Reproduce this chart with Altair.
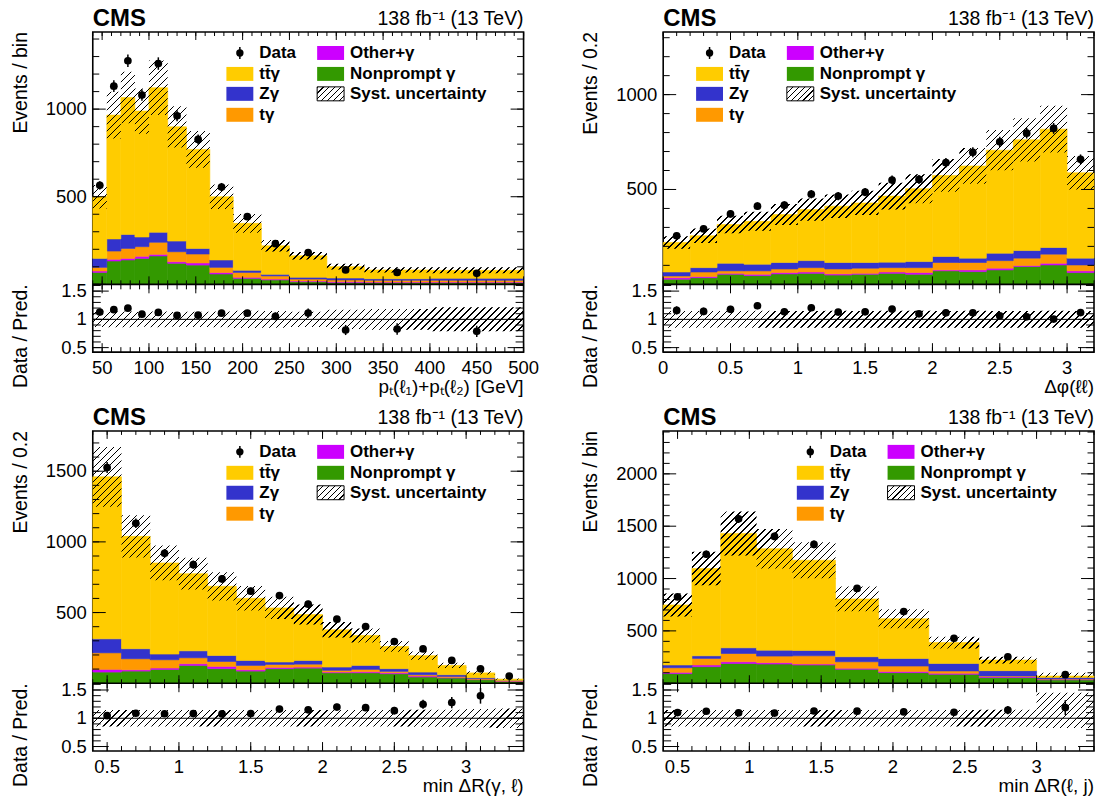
import numpy as np
import pandas as pd
import altair as alt

FONT = "Liberation Sans"
W, HM, HR = 432, 253, 68
HT = HM + HR
RDOM = [0.42, 1.62]

PROCS = ["Nonprompt  γ", "Other+γ", "tγ", "Zγ", "tt\u0304γ"]          # stacked bottom -> top
COLORS = ["#339900", "#cc00ff", "#ff9900", "#3333cc", "#ffcc00"]

# ---------------- panel 1 : pT(l1)+pT(l2) ----------------
pt_edges = [40, 55, 70, 85, 100, 120, 140, 165, 190, 220, 250, 290, 330, 400, 500]
pt_nonprompt = [68, 133, 139, 148, 162, 120, 110, 59, 34, 25, 15, 10, 10, 10]
pt_other = [8, 10, 9, 12, 9, 9, 12, 8, 6, 5, 4, 5, 3, 3]
pt_tg = [21, 47, 57, 55, 69, 57, 51, 30, 28, 18, 11, 10, 10, 10]
pt_zg = [51, 69, 80, 55, 57, 61, 32, 42, 12, 9, 10, 11, 9, 11]
pt_ttg = [352, 707, 781, 719, 825, 652, 565, 361, 268, 163, 123, 65, 50, 46]
pt_data = [565, 1131, 1276, 1080, 1260, 962, 827, 555, 386, 232, 181, 82, 68, 63]
pt_unc_up = [67, 133, 147, 129, 156, 118, 105, 70, 53, 33, 22, 17, 15, 17]
pt_unc_dn = [67, 133, 147, 129, 156, 118, 105, 70, 53, 33, 22, 17, 15, 17]
pt_xlabels = [50, 100, 150, 200, 250, 300, 350, 400, 450, 500]
pt_ylabels = [500, 1000]

# ---------------- panel 2 : delta phi(ll) ----------------
dphi_edges = [0, 0.2, 0.4, 0.6, 0.8, 1.0, 1.2, 1.4, 1.6, 1.8, 2.0, 2.2, 2.4, 2.6, 2.8, 3.0, 3.2]
dphi_nonprompt = [27, 35, 53, 46, 55, 58, 49, 53, 58, 53, 71, 67, 76, 94, 102, 62]
dphi_other = [8, 6, 5, 7, 7, 7, 6, 5, 7, 9, 5, 9, 9, 5, 9, 9]
dphi_tg = [9, 24, 13, 18, 19, 23, 26, 27, 23, 26, 39, 39, 40, 39, 48, 31]
dphi_zg = [21, 23, 40, 35, 34, 37, 34, 30, 29, 32, 32, 23, 39, 40, 35, 36]
dphi_ttg = [156, 168, 204, 226, 253, 269, 297, 314, 348, 384, 427, 486, 543, 584, 624, 450]
dphi_data = [256, 292, 371, 412, 417, 475, 465, 486, 550, 553, 641, 696, 751, 797, 822, 659]
dphi_unc_up = [33, 38, 46, 50, 55, 59, 62, 64, 70, 76, 86, 94, 106, 114, 123, 88]
dphi_unc_dn = [33, 38, 46, 50, 55, 59, 62, 64, 70, 76, 86, 94, 106, 114, 123, 88]
dphi_xlabels = [0, 0.5, 1, 1.5, 2, 2.5, 3]
dphi_ylabels = [500, 1000]

# ---------------- panel 3 : min dR(gamma, l) ----------------
drgl_edges = [0.4, 0.6, 0.8, 1.0, 1.2, 1.4, 1.6, 1.8, 2.0, 2.2, 2.4, 2.6, 2.8, 3.0, 3.2, 3.4]
drgl_nonprompt = [79, 86, 98, 126, 103, 86, 103, 107, 74, 74, 67, 44, 37, 25, 13]
drgl_other = [19, 9, 9, 12, 16, 9, 9, 7, 5, 7, 7, 7, 4, 2, 2]
drgl_tg = [117, 78, 59, 42, 35, 31, 21, 21, 12, 17, 10, 9, 7, 5, 3]
drgl_zg = [99, 71, 40, 49, 42, 35, 17, 26, 23, 28, 19, 19, 12, 7, 2]
drgl_ttg = [1146, 795, 645, 546, 490, 440, 383, 325, 264, 212, 157, 116, 66, 34, 9]
drgl_data = [1526, 1131, 919, 839, 738, 651, 620, 559, 453, 401, 295, 243, 161, 102, 51]
drgl_unc_up = [212, 150, 123, 112, 100, 87, 78, 71, 55, 49, 38, 29, 19, 12, 5]
drgl_unc_dn = [212, 150, 123, 112, 100, 87, 78, 71, 55, 49, 38, 29, 19, 12, 5]
drgl_xlabels = [0.5, 1, 1.5, 2, 2.5, 3]
drgl_ylabels = [500, 1000, 1500]

# ---------------- panel 4 : min dR(l, j) ----------------
drlj_edges = [0.4, 0.6, 0.8, 1.05, 1.3, 1.6, 1.9, 2.25, 2.6, 3.0, 3.4]
drlj_nonprompt = [92, 158, 189, 183, 174, 133, 101, 85, 54, 32]
drlj_other = [12, 16, 16, 13, 9, 9, 10, 10, 9, 6]
drlj_tg = [44, 63, 79, 63, 79, 63, 53, 22, 6, 3]
drlj_zg = [26, 25, 54, 57, 51, 48, 73, 72, 51, 13]
drlj_ttg = [574, 834, 1093, 969, 862, 552, 379, 199, 101, 15]
drlj_data = [824, 1232, 1570, 1402, 1326, 906, 685, 429, 253, 82]
drlj_unc_up = [110, 160, 210, 188, 172, 118, 90, 57, 33, 31]
drlj_unc_dn = [110, 160, 210, 188, 172, 118, 90, 57, 33, 12]
drlj_xlabels = [0.5, 1, 1.5, 2, 2.5, 3]
drlj_ylabels = [500, 1000, 1500, 2000]

RATIO_LABELS = [0.5, 1, 1.5]
LEG_LABELS = ["Data", "tt\u0304γ", "Zγ", "tγ", "Other+γ", "Nonprompt  γ", "Syst. uncertainty"]


def hatch(wpx, hpx, spacing=7.0, lw=1.2):
    r = hpx / wpx
    k = (1 + r) / (1 + r * r)
    tot = wpx + hpx
    n = max(1, int(round(tot / spacing)))
    w = lw / tot
    stops = []
    for i in range(n):
        a = round(i / n, 6)
        b = round(min(i / n + w, 1.0), 6)
        c = round((i + 1) / n, 6)
        stops += [{"offset": a, "color": "#000000"}, {"offset": b, "color": "#000000"},
                  {"offset": b, "color": "rgba(0,0,0,0)"}, {"offset": c, "color": "rgba(0,0,0,0)"}]
    return {"gradient": "linear", "x1": 0, "y1": 0, "x2": float(k), "y2": float(k * r), "stops": stops}


def tick_values(dom, step):
    s = np.ceil(dom[0] / step - 1e-9) * step
    v = np.arange(s, dom[1] + step * 1e-6, step)
    v = v[(v >= dom[0] - 1e-9) & (v <= dom[1] + 1e-9)]
    return [float(x) for x in np.round(v, 6)]


def rule(df):
    return alt.Chart(df).mark_rule(color="black", strokeWidth=1)


def x_tick_layers(xs, xdom, xsteps, y_top, y_bot, lens):
    out = []
    for step, L in zip(xsteps, lens):
        df = pd.DataFrame({"t": tick_values(xdom, step)})
        X = alt.X("t:Q", scale=xs, axis=None)
        out.append(rule(df).encode(x=X, y=alt.value(y_bot), y2=alt.value(y_bot - L)))
        out.append(rule(df).encode(x=X, y=alt.value(y_top), y2=alt.value(y_top + L)))
    return out


def y_tick_layers(ys, ydom, ysteps, lens):
    out = []
    for step, L in zip(ysteps, lens):
        df = pd.DataFrame({"t": tick_values(ydom, step)})
        Y = alt.Y("t:Q", scale=ys, axis=None)
        out.append(rule(df).encode(y=Y, x=alt.value(0), x2=alt.value(L)))
        out.append(rule(df).encode(y=Y, x=alt.value(W), x2=alt.value(W - L)))
    return out


def txt(df, **kw):
    return alt.Chart(df).mark_text(font=FONT, color="black", **kw)


def legend_layers(x0):
    sw, sh = 27, 14
    rows = [21, 42, 62, 83]
    c2 = x0 + 91
    items = [(PROCS[4], x0, rows[1]), (PROCS[3], x0, rows[2]), (PROCS[2], x0, rows[3]),
             (PROCS[1], c2, rows[0]), (PROCS[0], c2, rows[1])]
    cmap = dict(zip(PROCS, COLORS))
    rdf = pd.DataFrame({"x0": [i[1] for i in items], "x1": [i[1] + sw for i in items],
                        "y0": [i[2] - sh / 2 for i in items], "y1": [i[2] + sh / 2 for i in items],
                        "c": [cmap[i[0]] for i in items]})
    rects = alt.Chart(rdf).mark_rect().encode(
        x=alt.X("x0:Q", scale=None), x2="x1:Q", y=alt.Y("y0:Q", scale=None), y2="y1:Q",
        color=alt.Color("c:N", scale=None))
    sdf = pd.DataFrame({"x0": [c2], "x1": [c2 + sw], "y0": [rows[2] - sh / 2], "y1": [rows[2] + sh / 2]})
    syst = alt.Chart(sdf).mark_rect(fill=hatch(sw, sh, spacing=6.0, lw=1.2), stroke="black", strokeWidth=1).encode(
        x=alt.X("x0:Q", scale=None), x2="x1:Q", y=alt.Y("y0:Q", scale=None), y2="y1:Q")
    tpos = [(x0, rows[0]), (x0, rows[1]), (x0, rows[2]), (x0, rows[3]), (c2, rows[0]), (c2, rows[1]), (c2, rows[2])]
    tdf = pd.DataFrame({"x": [p[0] + 33 for p in tpos], "y": [p[1] for p in tpos], "t": LEG_LABELS})
    texts = txt(tdf, fontSize=17, fontWeight="bold", align="left", baseline="middle").encode(
        x=alt.X("x:Q", scale=None), y=alt.Y("y:Q", scale=None), text="t:N")
    ddf = pd.DataFrame({"x": [x0 + 13.5], "y": [rows[0]], "ya": [rows[0] - 6], "yb": [rows[0] + 6]})
    dbar = alt.Chart(ddf).mark_rule(color="black", strokeWidth=1.5).encode(
        x=alt.X("x:Q", scale=None), y=alt.Y("ya:Q", scale=None), y2="yb:Q")
    dpt = alt.Chart(ddf).mark_circle(color="black", opacity=1, size=55).encode(
        x=alt.X("x:Q", scale=None), y=alt.Y("y:Q", scale=None))
    return [rects, syst, texts, dbar, dpt]


def labels_df(vals):
    return pd.DataFrame({"v": [float(v) for v in vals], "s": [f"{v:g}" for v in vals]})


def panel(edges, comps, data, up, dn, ymax, xsteps, xlabels, ylabels, ytitle, xtitle, leg_x):
    n = len(data)
    xdom = [edges[0], edges[-1]]
    xs = alt.Scale(domain=xdom, nice=False, zero=False)
    ys = alt.Scale(domain=[0, ymax], range=[HM, 0], nice=False, zero=False)
    rs = alt.Scale(domain=RDOM, range=[HT, HM], nice=False, zero=False)
    cs = alt.Scale(domain=PROCS, range=COLORS)

    rows = []
    total = [0.0] * n
    for name, arr in zip(PROCS, comps):
        for i in range(n):
            rows.append({"x0": edges[i], "x1": edges[i + 1], "lo": total[i], "hi": total[i] + arr[i], "proc": name})
            total[i] += arr[i]
    sdf = pd.DataFrame(rows)

    centers = [(edges[i] + edges[i + 1]) / 2 for i in range(n)]
    ddf = pd.DataFrame({"x": centers, "y": data,
                        "ya": [d - np.sqrt(d) for d in data], "yb": [d + np.sqrt(d) for d in data],
                        "r": [d / t for d, t in zip(data, total)],
                        "ra": [(d - np.sqrt(d)) / t for d, t in zip(data, total)],
                        "rb": [(d + np.sqrt(d)) / t for d, t in zip(data, total)]})
    rdd = ddf[(ddf["r"] > RDOM[0]) & (ddf["r"] < RDOM[1])].copy()
    rdd["ra"] = rdd["ra"].clip(RDOM[0], RDOM[1])
    rdd["rb"] = rdd["rb"].clip(RDOM[0], RDOM[1])

    blo = [t - d for t, d in zip(total, dn)]
    bhi = [t + u for t, u in zip(total, up)]
    bdf = pd.DataFrame({"x": list(edges), "lo": blo + [blo[-1]], "hi": bhi + [bhi[-1]]})
    rlo = [max(1 - d / t, RDOM[0]) for t, d in zip(total, dn)]
    rhi = [min(1 + u / t, RDOM[1]) for t, u in zip(total, up)]
    rdf = pd.DataFrame({"x": list(edges), "lo": rlo + [rlo[-1]], "hi": rhi + [rhi[-1]]})

    hm_band = (max(bhi) - min(blo)) / ymax * HM
    hr_band = (max(rhi) - min(rlo)) / (RDOM[1] - RDOM[0]) * HR

    bars = alt.Chart(sdf).mark_rect(strokeWidth=0.6).encode(
        x=alt.X("x0:Q", scale=xs, axis=None), x2="x1:Q",
        y=alt.Y("lo:Q", scale=ys, axis=None), y2="hi:Q",
        color=alt.Color("proc:N", scale=cs, legend=None),
        stroke=alt.Stroke("proc:N", scale=cs, legend=None))
    band = alt.Chart(bdf).mark_area(interpolate="step-after", fill=hatch(W, hm_band), opacity=1).encode(
        x=alt.X("x:Q", scale=xs, axis=None), y=alt.Y("lo:Q", scale=ys, axis=None), y2="hi:Q")
    err = alt.Chart(ddf).mark_rule(color="black", strokeWidth=1.5).encode(
        x=alt.X("x:Q", scale=xs, axis=None), y=alt.Y("ya:Q", scale=ys, axis=None), y2="yb:Q")
    pts = alt.Chart(ddf).mark_circle(color="black", opacity=1, size=60).encode(
        x=alt.X("x:Q", scale=xs, axis=None), y=alt.Y("y:Q", scale=ys, axis=None))

    rband = alt.Chart(rdf).mark_area(interpolate="step-after", fill=hatch(W, hr_band), opacity=1).encode(
        x=alt.X("x:Q", scale=xs, axis=None), y=alt.Y("lo:Q", scale=rs, axis=None), y2="hi:Q")
    one = alt.Chart(pd.DataFrame({"one": [1.0]})).mark_rule(color="black", strokeWidth=1).encode(
        y=alt.Y("one:Q", scale=rs, axis=None))
    rerr = alt.Chart(rdd).mark_rule(color="black", strokeWidth=1.5).encode(
        x=alt.X("x:Q", scale=xs, axis=None), y=alt.Y("ra:Q", scale=rs, axis=None), y2="rb:Q")
    rpts = alt.Chart(rdd).mark_circle(color="black", opacity=1, size=60).encode(
        x=alt.X("x:Q", scale=xs, axis=None), y=alt.Y("r:Q", scale=rs, axis=None))

    sep = alt.Chart(pd.DataFrame({"v": [0]})).mark_rule(color="black", strokeWidth=1.6).encode(
        x=alt.value(0), x2=alt.value(W), y=alt.value(HM))

    # axis labels and titles as text
    ylab = txt(labels_df(ylabels), fontSize=18.5, align="right", baseline="middle").encode(
        y=alt.Y("v:Q", scale=ys, axis=None), x=alt.value(-6), text="s:N")
    rlab = txt(labels_df(RATIO_LABELS), fontSize=18.5, align="right", baseline="middle").encode(
        y=alt.Y("v:Q", scale=rs, axis=None), x=alt.value(-6), text="s:N")
    xlab = txt(labels_df(xlabels), fontSize=18.5, align="center", baseline="middle").encode(
        x=alt.X("v:Q", scale=xs, axis=None), y=alt.value(HT + 16), text="s:N")
    ytit = txt(pd.DataFrame({"t": [ytitle]}), fontSize=19.5, align="right", baseline="middle", angle=270).encode(
        x=alt.value(-72), y=alt.value(0), text="t:N")
    rtit = txt(pd.DataFrame({"t": ["Data / Pred."]}), fontSize=19.5, align="right", baseline="middle",
               angle=270).encode(x=alt.value(-72), y=alt.value(HM), text="t:N")
    xtit = txt(pd.DataFrame({"t": [xtitle]}), fontSize=19, align="right", baseline="middle").encode(
        x=alt.value(W), y=alt.value(HT + 35), text="t:N")

    cms = txt(pd.DataFrame({"t": ["CMS"]}), fontSize=24, fontWeight="bold", align="left",
              baseline="alphabetic").encode(text="t:N", x=alt.value(0), y=alt.value(-6))
    lumi = txt(pd.DataFrame({"t": ["138 fb\u207b\u00b9 (13 TeV)"]}), fontSize=19.5, align="right",
               baseline="alphabetic").encode(text="t:N", x=alt.value(W), y=alt.value(-7))

    ticks = (x_tick_layers(xs, xdom, xsteps, 0, HM, (4, 8))
             + x_tick_layers(xs, xdom, xsteps, HM, HT, (5, 9))
             + y_tick_layers(ys, [0, ymax], (100, 500), (6.5, 13))
             + y_tick_layers(rs, RDOM, (0.1, 0.5), (8, 16)))

    layers = [bars, band, err, pts, rband, one, rerr, rpts, sep, *ticks,
              ylab, rlab, xlab, ytit, rtit, xtit, cms, lumi, *legend_layers(leg_x)]
    return alt.layer(*layers).resolve_scale(y="independent").properties(width=W, height=HT)


p1 = panel(pt_edges, [pt_nonprompt, pt_other, pt_tg, pt_zg, pt_ttg], pt_data, pt_unc_up, pt_unc_dn,
           1440, (10, 50), pt_xlabels, pt_ylabels, "Events / bin",
           "p\u209c(ℓ\u2081)+p\u209c(ℓ\u2082) [GeV]", 134)
p2 = panel(dphi_edges, [dphi_nonprompt, dphi_other, dphi_tg, dphi_zg, dphi_ttg], dphi_data, dphi_unc_up,
           dphi_unc_dn, 1330, (0.1, 0.5), dphi_xlabels, dphi_ylabels, "Events / 0.2", "Δφ(ℓℓ)", 33)
p3 = panel(drgl_edges, [drgl_nonprompt, drgl_other, drgl_tg, drgl_zg, drgl_ttg], drgl_data, drgl_unc_up,
           drgl_unc_dn, 1785, (0.1, 0.5), drgl_xlabels, drgl_ylabels, "Events / 0.2", "min ΔR(γ, ℓ)", 134)
p4 = panel(drlj_edges, [drlj_nonprompt, drlj_other, drlj_tg, drlj_zg, drlj_ttg], drlj_data, drlj_unc_up,
           drlj_unc_dn, 2410, (0.1, 0.5), drlj_xlabels, drlj_ylabels, "Events / bin", "min ΔR(ℓ, j)", 134)

chart = alt.concat(
    p1, p2, p3, p4, columns=2, spacing={"row": 79, "column": 140}, bounds="flush",
).properties(
    padding={"left": 2, "top": -3, "right": 0, "bottom": 0}, background="white"
).configure_view(
    stroke="black", strokeWidth=1.6
)

chart.save("out.html", embed_options={"renderer": "svg", "actions": False})
